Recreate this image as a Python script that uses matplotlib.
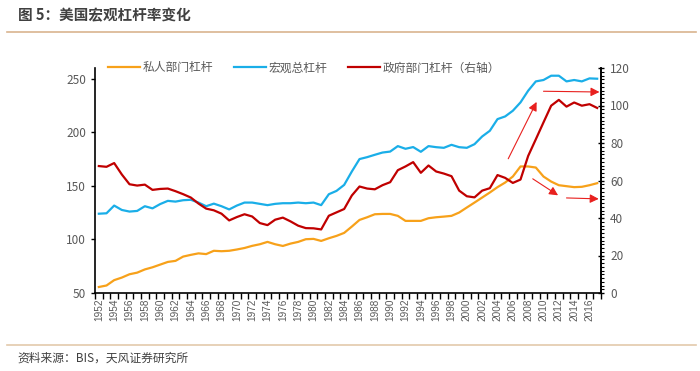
import numpy as np
import matplotlib
matplotlib.use("Agg")
import matplotlib.pyplot as plt
from matplotlib.lines import Line2D
from matplotlib.ticker import MultipleLocator, FixedLocator

plt.rcParams['font.family'] = ['Noto Sans CJK SC', 'DejaVu Sans']

years = np.arange(1952, 2018)

# 私人部门杠杆 (left axis)
private = [55.6, 57, 62, 64.4, 67.5, 69, 72, 74, 76.5, 79, 80, 84, 85.6, 87, 86.3, 89.4,
           89, 89.4, 90.6, 92, 94, 95.5, 97.7, 95.5, 93.9, 96.1, 97.7, 100.2, 100.5, 98.6,
           101.1, 103.3, 106.1, 112, 118.2, 120.7, 123.5, 123.8, 123.8, 122, 117.3, 117.3,
           117.3, 119.8, 120.7, 121.3, 122, 125.1, 129.8, 134.4, 139.1, 143.8, 148.8, 153.1,
           158.7, 168.1, 168.1, 167.1, 158.7, 154, 150.6, 149.7, 148.8, 149.1, 150.6, 152.5]

# 宏观总杠杆 (left axis)
total = [124, 124.4, 131.6, 127.5, 126, 126.6, 131, 129, 133, 136, 135.3, 136.6, 137, 134.4,
         131, 133.4, 131, 128, 131.6, 134.4, 134.4, 133.2, 132, 133.2, 133.8, 133.8, 134.4,
         133.8, 134.4, 132, 142.2, 145.3, 150.9, 163.4, 175, 176.8, 179, 181.1, 182, 187.1,
         184.6, 186.2, 181.8, 187.1, 186.1, 185.5, 188.3, 186.1, 185.5, 188.9, 196.1, 201.4,
         212.3, 214.8, 220.1, 227.9, 238.8, 247.5, 248.8, 252.8, 252.8, 247.5, 248.8, 247.5,
         250.3, 250]

# 政府部门杠杆 (right axis)
government = [67.7, 67.3, 69.3, 63.2, 58, 57.3, 57.8, 55, 55.5, 55.7, 54.3, 52.7, 50.9, 47.7,
              45, 44.1, 42.3, 38.7, 40.5, 42, 40.8, 37.3, 36.2, 39.1, 40.2, 38.2, 35.9, 34.6,
              34.5, 33.9, 41.2, 43, 44.8, 52, 56.8, 55.7, 55.3, 57.5, 59.1, 65.5, 67.5, 69.8,
              64.1, 68, 64.8, 63.7, 62.3, 54.6, 51.6, 51, 54.6, 55.9, 62.9, 61.4, 58.7, 60.5,
              73.1, 82, 91, 99.9, 103, 99.4, 101.6, 99.9, 100.7, 98.7]

labels = ["私人部门杠杆", "宏观总杠杆", "政府部门杠杆（右轴）"]
title = "图 5：美国宏观杠杆率变化"
source = "资料来源：BIS，天风证券研究所"

c_orange = "#F7A11A"
c_blue = "#1AAEE8"
c_red = "#C00000"
c_text = "#595959"

fig = plt.figure(figsize=(7, 3.71), dpi=100)
ax = fig.add_axes([95 / 700, 1 - 293 / 371, 506 / 700, 225 / 371])
ax2 = ax.twinx()

l1, = ax.plot(years, private, color=c_orange, lw=1.6)
l2, = ax.plot(years, total, color=c_blue, lw=1.6)
l3, = ax2.plot(years, government, color=c_red, lw=1.6)

ax.set_xlim(1951.5, 2017.5)
ax.set_ylim(50, 260)
ax2.set_ylim(0, 120)

ax.set_yticks([50, 100, 150, 200, 250])
ax2.set_yticks(np.arange(0, 121, 20))
ax2.yaxis.set_minor_locator(MultipleLocator(2))

ax.xaxis.set_major_locator(FixedLocator(np.arange(1952, 2018, 2)))
ax.set_xticklabels([str(y) for y in range(1952, 2018, 2)], rotation=90,
                   family="Liberation Sans", fontsize=7.2)
ax.xaxis.set_minor_locator(FixedLocator(np.arange(1951.5, 2018, 1)))
ax.tick_params(axis="x", which="major", length=0, colors=c_text, pad=4)
ax.tick_params(axis="x", which="minor", length=4, direction="out", width=1)

ax.tick_params(axis="y", length=3, width=1, direction="out", labelsize=8.5, colors=c_text)
ax2.tick_params(axis="y", which="major", length=5, width=1, direction="inout",
                labelsize=8.5, colors=c_text, pad=4)
ax2.tick_params(axis="y", which="minor", length=2.5, width=0.8, direction="out")
for a in (ax, ax2):
    a.tick_params(axis="both", which="both", color="black")
    a.spines["top"].set_visible(False)
    for s in ("left", "right", "bottom"):
        a.spines[s].set_linewidth(1.2)
ax2.spines["left"].set_visible(False)
ax2.spines["bottom"].set_visible(False)

# arrows
arrow_kw = dict(arrowstyle="-|>", color="#E8201E", lw=0.8, mutation_scale=13,
                shrinkA=0, shrinkB=0)
ax2.annotate("", xy=(2009.1, 101.9), xytext=(2005.4, 71.6), arrowprops=arrow_kw)
ax2.annotate("", xy=(2017.3, 107.2), xytext=(2010.0, 107.6), arrowprops=arrow_kw)
ax2.annotate("", xy=(2011.9, 52.1), xytext=(2008.6, 60.9), arrowprops=arrow_kw)
ax2.annotate("", xy=(2017.2, 50.2), xytext=(2013.0, 50.7), arrowprops=arrow_kw)

leg = ax2.legend([l1, l2, l3], labels, ncol=3, frameon=False, loc="center",
                 bbox_to_anchor=(304 / 700, 1 - 68 / 371), bbox_transform=fig.transFigure,
                 fontsize=8.5, handlelength=2.7, handletextpad=0.2, columnspacing=1.8)
for t in leg.get_texts():
    t.set_color(c_text)

fig.text(18 / 700, 1 - 15 / 371, title, fontsize=10.5, fontweight="bold",
         color="#404040", va="center", ha="left")
fig.add_artist(Line2D([7 / 700, 696 / 700], [1 - 31.5 / 371] * 2, color="#D9B48F", lw=1.2))
fig.add_artist(Line2D([7 / 700, 696 / 700], [1 - 345 / 371] * 2, color="#E3C9AC", lw=1.2))
fig.text(17 / 700, 1 - 358 / 371, source, fontsize=8.5, color="#404040",
         va="center", ha="left")

fig.savefig("out.png", dpi=100)
